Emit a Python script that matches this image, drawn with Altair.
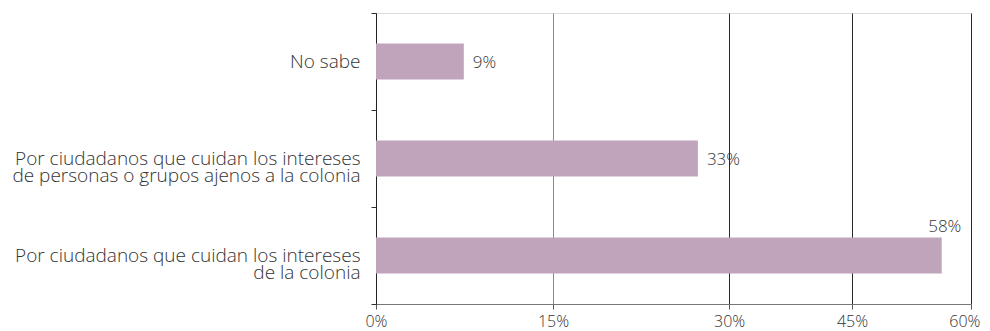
import altair as alt
import pandas as pd

categories = [
    "No sabe",
    "Por ciudadanos que cuidan los intereses|de personas o grupos ajenos a la colonia",
    "Por ciudadanos que cuidan los intereses|de la colonia",
]
values = [9, 33, 58]
value_labels = ["9%", "33%", "58%"]

# axis ticks as drawn in the reference (gridline positions in bar units) and their printed labels
tick_values = [0, 18.15, 36.2, 48.8, 61]
tick_labels = ["0%", "15%", "30%", "45%", "60%"]
x_max = 61

df = pd.DataFrame({"cat": categories, "val": values, "lab": value_labels})
df["above"] = [False, False, True]

label_expr = " : ".join(
    f"datum.value == {v} ? '{t}'" for v, t in zip(tick_values, tick_labels)
) + " : ''"

FONT = "Open Sans"
BAR = "#BFA4BB"
TXT = "#333333"
last_test = f"datum.value == {tick_values[-1]}"

x = alt.X(
    "val:Q",
    scale=alt.Scale(domain=[0, x_max], nice=False),
    axis=alt.Axis(
        values=tick_values,
        labelExpr=label_expr,
        title=None,
        grid=True,
        gridColor={"condition": {"test": f"datum.value == {tick_values[1]}", "value": "#8a8a8a"}, "value": "#2a2a2a"},
        gridWidth=1,
        domainColor="#777",
        tickColor="#555",
        tickSize=5,
        labelFont=FONT,
        labelFontSize=16,
        labelFontWeight=300,
        labelColor=TXT,
        labelPadding=4,
        labelFlush=False,
        labelOverlap=False,
        labelAlign={"condition": {"test": last_test, "value": "right"}, "value": "center"},
        labelOffset={"condition": {"test": last_test, "value": 9}, "value": 0},
    ),
)
y = alt.Y(
    "cat:N",
    sort=categories,
    scale=alt.Scale(paddingInner=0, paddingOuter=0),
    axis=alt.Axis(
        title=None,
        tickBand="extent",
        domainColor="#222",
        tickColor="#333",
        tickSize=5,
        labelExpr="split(datum.label, '|')",
        labelFont=FONT,
        labelFontSize=19,
        labelFontWeight=300,
        labelColor=TXT,
        labelLineHeight=17,
        labelPadding=11,
        labelLimit=400,
    ),
)

bars = alt.Chart(df).mark_bar(color=BAR, height={"band": 0.37}).encode(x=x, y=y)

side = alt.Chart(df).transform_filter("!datum.above").mark_text(
    align="left", baseline="middle", dx=9, dy=1, font=FONT, fontSize=17, fontWeight=300, color=TXT
).encode(x="val:Q", y=alt.Y("cat:N", sort=categories), text="lab:N")

top = alt.Chart(df).transform_filter("datum.above").mark_text(
    align="center", baseline="alphabetic", dx=3, dy=-24, font=FONT, fontSize=17, fontWeight=300, color=TXT
).encode(x="val:Q", y=alt.Y("cat:N", sort=categories), text="lab:N")

chart = (
    alt.layer(bars, side, top)
    .properties(
        width=595,
        height=291,
        autosize=alt.AutoSizeParams(type="none"),
        padding={"left": 368, "top": 5, "right": 10, "bottom": 27},
    )
    .configure_view(stroke="#555", strokeWidth=1)
    .configure(background="white")
)

chart.save("out.html", embed_options={"renderer": "svg", "actions": False})
